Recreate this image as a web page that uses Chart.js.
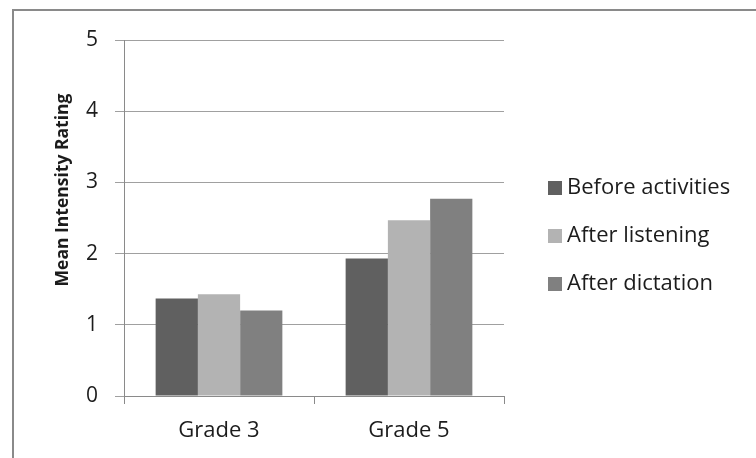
<!DOCTYPE html>
<html>
<head>
<meta charset="utf-8">
<script src="https://cdn.jsdelivr.net/npm/chart.js@4/dist/chart.umd.min.js"></script>
<style>
  html, body { margin: 0; padding: 0; background: #fff; }
  #wrap { position: absolute; left: 0; top: 0; width: 756px; height: 458px; }
</style>
</head>
<body>
<div id="wrap"><canvas id="c" width="756" height="458"></canvas></div>
<script>
// Chart data
const categories = ['Grade 3', 'Grade 5'];
const seriesNames = ['Before activities', 'After listening', 'After dictation'];
const beforeActivities = [1.37, 1.93];
const afterListening = [1.43, 2.47];
const afterDictation = [1.20, 2.77];
const yTicks = [0, 1, 2, 3, 4, 5];
const yTitle = 'Mean Intensity Rating';

const seriesColors = ['#606060', '#b3b3b3', '#808080'];
const FONT = '"Open Sans", Lato, sans-serif';
const TEXT = '#1c1c1c';

// Outer frame (top and left edges only) plus the rotated axis title
const framePlugin = {
  id: 'frame',
  beforeDraw(chart) {
    const ctx = chart.ctx;
    ctx.save();
    ctx.strokeStyle = '#8a8a8a';
    ctx.lineWidth = 2;
    ctx.beginPath();
    ctx.moveTo(13, 458);
    ctx.lineTo(13, 10);
    ctx.lineTo(756, 10);
    ctx.stroke();
    ctx.restore();
  },
  afterDraw(chart) {
    const ctx = chart.ctx;
    ctx.save();
    ctx.translate(63, 190);
    ctx.rotate(-Math.PI / 2);
    ctx.fillStyle = TEXT;
    ctx.font = 'bold 17.5px ' + FONT;
    ctx.textAlign = 'center';
    ctx.textBaseline = 'middle';
    ctx.fillText(yTitle, 0, 0);
    ctx.restore();
  }
};

// Legend drawn to the right of the plot area
const sideLegend = {
  id: 'sideLegend',
  afterDraw(chart) {
    const ctx = chart.ctx;
    ctx.save();
    ctx.font = '22px ' + FONT;
    ctx.textBaseline = 'middle';
    ctx.textAlign = 'left';
    chart.data.datasets.forEach((ds, i) => {
      const y = 188 + i * 48;
      ctx.fillStyle = ds.backgroundColor;
      ctx.fillRect(548, y - 7, 14, 14);
      ctx.fillStyle = TEXT;
      ctx.fillText(ds.label, 567, y);
    });
    ctx.restore();
  }
};

new Chart(document.getElementById('c'), {
  type: 'bar',
  data: {
    labels: categories,
    datasets: [
      { label: seriesNames[0], data: beforeActivities, backgroundColor: seriesColors[0] },
      { label: seriesNames[1], data: afterListening, backgroundColor: seriesColors[1] },
      { label: seriesNames[2], data: afterDictation, backgroundColor: seriesColors[2] }
    ]
  },
  options: {
    responsive: false,
    animation: false,
    events: [],
    layout: { padding: { left: 0, top: 40, right: 252, bottom: 0 } },
    datasets: { bar: { categoryPercentage: 0.667, barPercentage: 1.0, borderWidth: 0 } },
    plugins: { legend: { display: false }, tooltip: { enabled: false } },
    scales: {
      x: {
        afterFit(s) { s.height = 62; },
        grid: { offset: true, drawOnChartArea: false, drawTicks: true, tickLength: 8, color: '#8a8a8a', lineWidth: 1 },
        border: { color: '#8a8a8a', width: 1 },
        ticks: { color: TEXT, font: { family: FONT, size: 22 }, padding: 14 }
      },
      y: {
        min: 0, max: 5,
        afterFit(s) { s.width = 124; },
        afterBuildTicks(s) { s.ticks = yTicks.map(v => ({ value: v })); },
        grid: { color: '#a0a0a0', lineWidth: 1, drawTicks: true, tickLength: 9 },
        border: { color: '#8a8a8a', width: 1 },
        ticks: { color: TEXT, font: { family: FONT, size: 21 }, padding: 17 }
      }
    }
  },
  plugins: [framePlugin, sideLegend]
});
</script>
</body>
</html>
